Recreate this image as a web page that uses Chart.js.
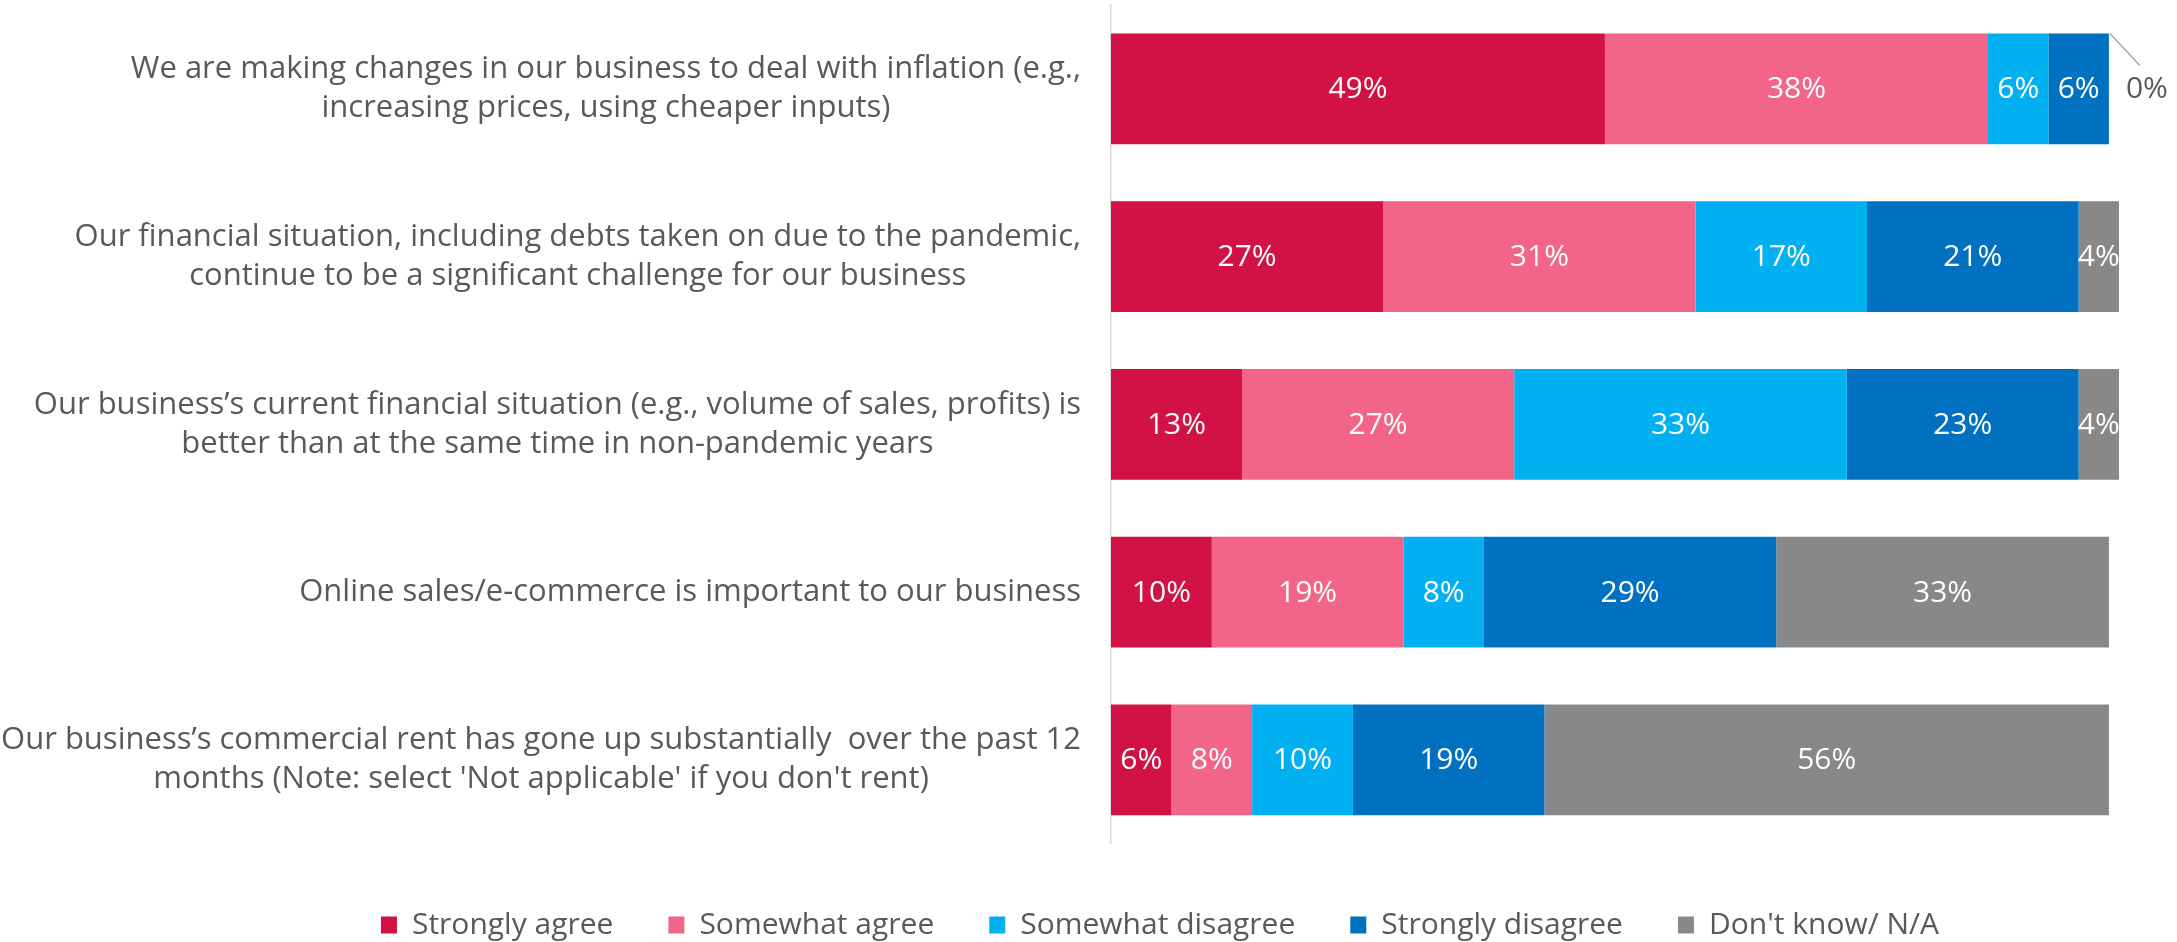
<!DOCTYPE html>
<html>
<head>
<meta charset="utf-8">
<script src="https://cdn.jsdelivr.net/npm/chart.js@4.4.1/dist/chart.umd.min.js"></script>
<style>
  html, body { margin: 0; padding: 0; background: #fff; }
  #wrap { width: 2177px; height: 942px; }
</style>
</head>
<body>
<div id="wrap"><canvas id="chart" width="2177" height="942"></canvas></div>
<script>
// statements, one array of lines per bar
const categories = [
  ['We are making changes in our business to deal with inflation (e.g.,', 'increasing prices, using cheaper inputs)'],
  ['Our financial situation, including debts taken on due to the pandemic,', 'continue to be a significant challenge for our business'],
  ['Our business\u2019s current financial situation (e.g., volume of sales, profits) is', 'better than at the same time in non-pandemic years'],
  ['Online sales/e-commerce is important to our business'],
  ['Our business\u2019s commercial rent has gone up substantially  over the past 12', "months (Note: select 'Not applicable' if you don't rent)"]
];

const seriesNames = ['Strongly agree', 'Somewhat agree', 'Somewhat disagree', 'Strongly disagree', "Don't know/ N/A"];
const stronglyAgree = [49, 27, 13, 10, 6];
const somewhatAgree = [38, 31, 27, 19, 8];
const somewhatDisagree = [6, 17, 33, 8, 10];
const stronglyDisagree = [6, 21, 23, 29, 19];
const dontKnow = [0, 4, 4, 33, 56];
const seriesColors = ['#D21245', '#F26589', '#00B0F0', '#0070C0', '#868889'];

const FONT = '"Open Sans", "DejaVu Sans", sans-serif';
const VALUE_FONT = '"Liberation Sans Narrow", "Open Sans", sans-serif';
const TEXT_GREY = '#595959';

// category labels: block right aligned, lines centred inside the block
const categoryLabels = {
    id: 'categoryLabels',
    afterDraw(chart) {
        const ctx = chart.ctx;
        const yScale = chart.scales.y;
        const right = chart.chartArea.left - 30;
        ctx.save();
        ctx.font = '31px ' + FONT;
        ctx.fillStyle = TEXT_GREY;
        ctx.textAlign = 'center';
        ctx.textBaseline = 'middle';
        chart.data.labels.forEach((lines, i) => {
            const w = Math.max(...lines.map(l => ctx.measureText(l).width));
            const cx = right - w / 2;
            const cy = yScale.getPixelForValue(i);
            lines.forEach((line, j) => {
                ctx.fillText(line, cx, cy + (j - (lines.length - 1) / 2) * 39);
            });
        });
        ctx.restore();
    }
};

// percentage labels inside the bars, zero values get a callout
const valueLabels = {
    id: 'valueLabels',
    afterDatasetsDraw(chart) {
        const ctx = chart.ctx;
        ctx.save();
        ctx.font = '30px ' + VALUE_FONT;
        ctx.textBaseline = 'middle';
        chart.data.datasets.forEach((ds, di) => {
            const meta = chart.getDatasetMeta(di);
            meta.data.forEach((bar, i) => {
                const v = ds.data[i];
                if (v > 0) {
                    ctx.fillStyle = '#ffffff';
                    ctx.textAlign = 'center';
                    ctx.fillText(v + '%', (bar.x + bar.base) / 2, bar.y + 1);
                } else {
                    const top = bar.y - bar.height / 2;
                    ctx.strokeStyle = '#a6a6a6';
                    ctx.lineWidth = 1.5;
                    ctx.beginPath();
                    ctx.moveTo(bar.x + 1, top);
                    ctx.lineTo(bar.x + 31, top + 32);
                    ctx.stroke();
                    ctx.fillStyle = TEXT_GREY;
                    ctx.textAlign = 'left';
                    ctx.fillText(v + '%', bar.x + 17, bar.y + 1);
                }
            });
        });
        ctx.restore();
    }
};

const seriesData = [stronglyAgree, somewhatAgree, somewhatDisagree, stronglyDisagree, dontKnow];

new Chart(document.getElementById('chart'), {
    type: 'bar',
    data: {
        labels: categories,
        datasets: seriesNames.map((name, k) => ({
            label: name,
            data: seriesData[k],
            backgroundColor: seriesColors[k],
            borderWidth: 0,
            categoryPercentage: 1,
            barPercentage: 0.66
        }))
    },
    options: {
        indexAxis: 'y',
        responsive: false,
        animation: false,
        layout: { padding: { left: 201, right: 58, top: 5, bottom: -8 } },
        scales: {
            x: { stacked: true, display: false, min: 0, max: 100 },
            y: {
                stacked: true,
                grid: { display: false },
                ticks: { display: false },
                border: { color: '#d9d9d9', width: 1.5 },
                afterFit: s => { s.width = 910; }
            }
        },
        plugins: {
            tooltip: { enabled: false },
            legend: {
                position: 'bottom',
                // empty title only used as a spacer above the items
                title: { display: true, text: '', padding: { top: 10, bottom: 0 }, font: { size: 1 } },
                labels: {
                    boxWidth: 16,
                    boxHeight: 17,
                    padding: 55,
                    color: TEXT_GREY,
                    font: { size: 30, family: FONT }
                }
            }
        }
    },
    plugins: [categoryLabels, valueLabels]
});
</script>
</body>
</html>
